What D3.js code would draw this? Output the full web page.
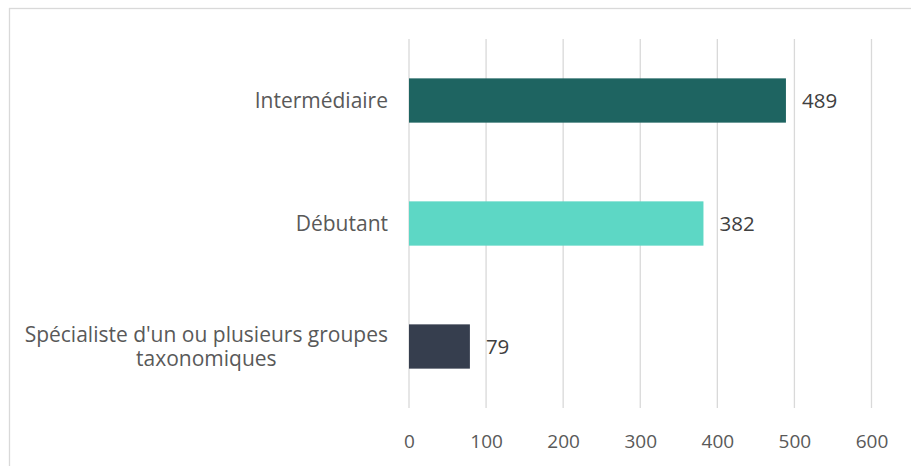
<!DOCTYPE html>
<html>
<head>
<meta charset="utf-8">
<script src="https://cdn.jsdelivr.net/npm/d3@7"></script>
<style>
  body { margin: 0; background: #fff; }
  text { font-family: "Open Sans", sans-serif; }
</style>
</head>
<body>
<script>
var categories = ['Intermédiaire', 'Débutant', "Spécialiste d'un ou plusieurs groupes taxonomiques"]
var values = [489, 382, 79]
var colors = ['#1e6461', '#5dd7c5', '#363e4e']
var ticks = [0, 100, 200, 300, 400, 500, 600]

var W = 911, H = 466
var margin = { top: 39, right: 40, bottom: 58, left: 409 }
var width = 871.5 - margin.left
var height = 408 - margin.top

var svg = d3.select('body').append('svg')
  .attr('width', W)
  .attr('height', H)

// chart frame
svg.append('rect')
  .attr('x', 9.5).attr('y', 8.5)
  .attr('width', W).attr('height', H)
  .attr('fill', 'none')
  .attr('stroke', '#d9d9d9')
  .attr('stroke-width', 1.3)

var g = svg.append('g')
  .attr('transform', 'translate(' + margin.left + ',' + margin.top + ')')

var x = d3.scaleLinear().domain([0, 600]).range([0, width])
var y = d3.scaleBand().domain(categories).range([0, height])
  .paddingInner(0.64).paddingOuter(0.32)

// gridlines
g.selectAll('.grid')
  .data(ticks)
  .enter().append('line')
  .attr('class', 'grid')
  .attr('x1', d => x(d)).attr('x2', d => x(d))
  .attr('y1', 0).attr('y2', height)
  .attr('stroke', '#d9d9d9')
  .attr('stroke-width', 1.3)

// x axis labels
var xAxis = g.append('g')
  .attr('transform', 'translate(0,' + height + ')')
  .call(d3.axisBottom(x).tickValues(ticks).tickSize(0).tickPadding(27))
xAxis.select('.domain').remove()
xAxis.selectAll('text')
  .attr('fill', '#595959')
  .style('font-size', '19px')
  .style('font-family', '"Open Sans", sans-serif')

// bars
g.selectAll('.bar')
  .data(categories)
  .enter().append('rect')
  .attr('class', 'bar')
  .attr('x', x(0))
  .attr('y', d => y(d))
  .attr('width', (d, i) => x(values[i]) - x(0))
  .attr('height', y.bandwidth())
  .attr('fill', (d, i) => colors[i])

// value labels
g.selectAll('.val')
  .data(categories)
  .enter().append('text')
  .attr('class', 'val')
  .attr('x', (d, i) => x(values[i]) + 16)
  .attr('y', d => y(d) + y.bandwidth() / 2)
  .attr('dy', '0.35em')
  .attr('fill', '#404040')
  .style('font-size', '20.5px')
  .text((d, i) => values[i])

// category labels, wrapped and centred as a block ending 20px left of the axis
var maxW = 380
g.selectAll('.cat')
  .data(categories)
  .enter().append('text')
  .attr('class', 'cat')
  .attr('fill', '#595959')
  .style('font-size', '21px')
  .each(function(d) {
    var t = d3.select(this)
    var words = d.split(' ')
    var lines = [], cur = []
    var probe = t.append('tspan')
    words.forEach(function(w) {
      probe.text(cur.concat(w).join(' '))
      if (probe.node().getComputedTextLength() > maxW && cur.length) {
        lines.push(cur.join(' '))
        cur = [w]
      } else {
        cur.push(w)
      }
    })
    lines.push(cur.join(' '))
    var widest = 0
    lines.forEach(function(l) {
      probe.text(l)
      widest = Math.max(widest, probe.node().getComputedTextLength())
    })
    probe.remove()
    var lh = 24
    var cy = y(d) + y.bandwidth() / 2 - (lines.length - 1) * lh / 2
    var cx = -21 - widest / 2
    t.attr('text-anchor', 'middle')
    lines.forEach(function(l, i) {
      t.append('tspan')
        .attr('x', cx)
        .attr('y', cy + i * lh)
        .attr('dy', '0.35em')
        .text(l)
    })
  })
</script>
</body>
</html>
